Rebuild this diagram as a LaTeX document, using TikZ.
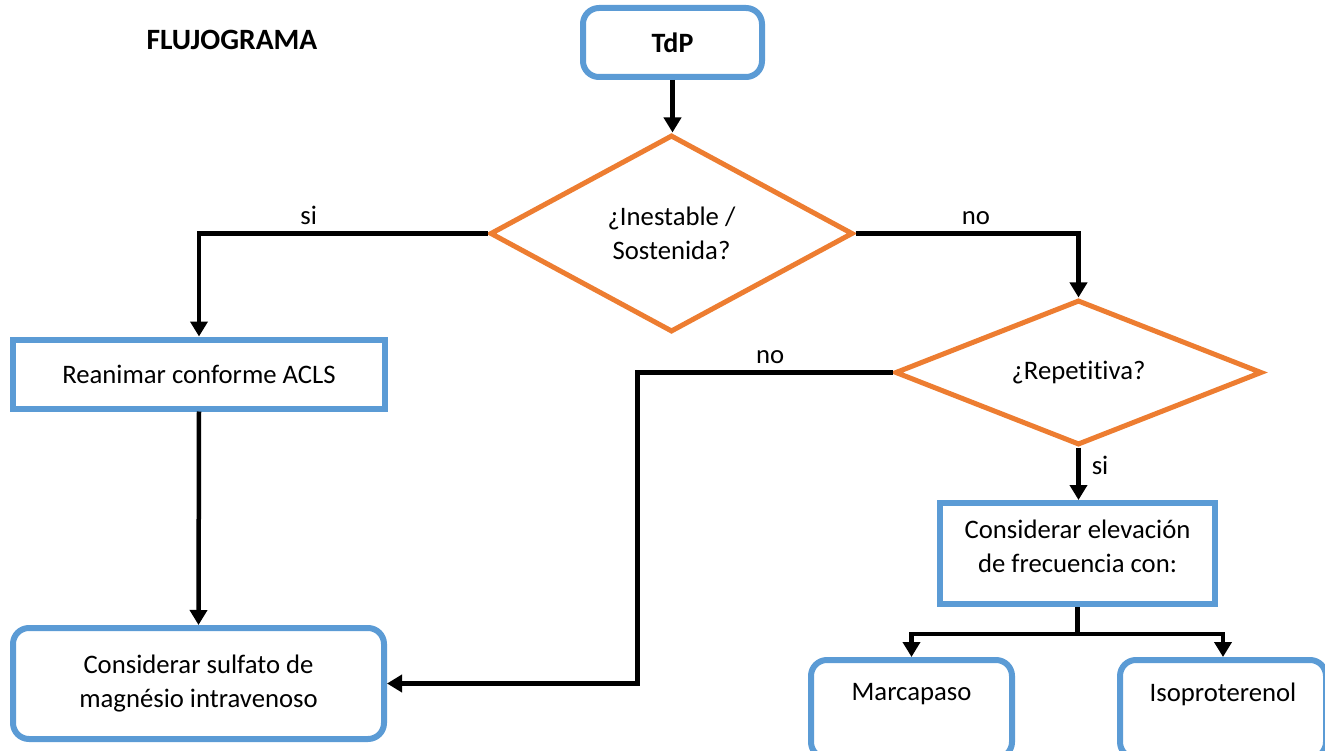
\documentclass[tikz,border=0pt]{standalone}
\usepackage{fontspec}
\setmainfont{Carlito}[Ligatures=NoCommon]
\usetikzlibrary{shapes.geometric,arrows.meta}

\definecolor{azul}{HTML}{5B9BD5}
\definecolor{naranja}{HTML}{ED7D31}

\begin{document}
\begin{tikzpicture}[x=1pt, y=-1pt,
    font=\fontsize{26.7}{34}\selectfont,
    caja/.style={draw=azul, line width=6pt, align=center, inner sep=0pt, outer sep=3pt},
    redonda/.style={caja, rounded corners=16pt},
    decision/.style={draw=naranja, line width=5pt, shape=diamond, align=center, inner sep=0pt, outer sep=2.5pt},
    flecha/.style={line width=4.5pt, -{Triangle[width=17pt,length=15pt]}},
    linea/.style={line width=4.5pt},
    etiqueta/.style={inner sep=2pt}]

  \useasboundingbox (0,0) rectangle (1325,751);
  \clip (0,0) rectangle (1325,751);

  \node[font=\fontsize{29.5}{34}\selectfont\bfseries] (titulo) at (232,40) {FLUJOGRAMA};

  % cajas y decisiones
  \node[redonda, minimum width=179pt, minimum height=69pt, font=\fontsize{28}{34}\selectfont\bfseries] (tdp) at (672.5,42.5) {TdP};
  \node[decision, minimum width=363pt, minimum height=197pt, aspect=1.8] (inest) at (671.5,233.5) {¿Inestable /\\Sostenida?};
  \node[caja, minimum width=372pt, minimum height=69pt] (acls) at (199,374) {Reanimar conforme ACLS};
  \node[redonda, minimum width=371pt, minimum height=111pt] (sulf) at (198.5,683.5) {Considerar sulfato de\\magnésio intravenoso};
  \node[decision, minimum width=367pt, minimum height=145pt, aspect=2.5] (rep) at (1078.5,372.5) {¿Repetitiva?};
  \node[caja, minimum width=275pt, minimum height=101pt, text depth=14pt] (elev) at (1077.5,553.5) {Considerar elevación\\de frecuencia con:};
  \node[redonda, minimum width=201pt, minimum height=98pt, text depth=34pt] (marca) at (911.5,709) {Marcapaso};
  \node[redonda, minimum width=206pt, minimum height=98pt, text depth=34pt] (iso) at (1223,709) {Isoproterenol};

  % flechas
  \draw[flecha] (tdp.south) -- (tdp.south |- inest.north);
  \draw[flecha] (inest.west) -| node[etiqueta, above=5pt, pos=0.31] {si} (acls.north);
  \draw[flecha] (acls.south) -- (sulf.north);
  \draw[flecha] (inest.east) -| node[etiqueta, above=5pt, pos=0.27] {no} (rep.north);
  \draw[flecha] (rep.west) -- node[etiqueta, above=5pt, pos=0.48] {no} ++(-255,0) |- (sulf.east);
  \draw[flecha] (rep.south) -- node[etiqueta, right=9pt, pos=0.35] {si} (rep.south |- elev.north);
  \draw[linea] (elev.south) -- ++(0,27) coordinate (reparto);
  \draw[flecha] (reparto) -| (marca.north);
  \draw[flecha] (reparto) -| (iso.north);
\end{tikzpicture}
\end{document}
